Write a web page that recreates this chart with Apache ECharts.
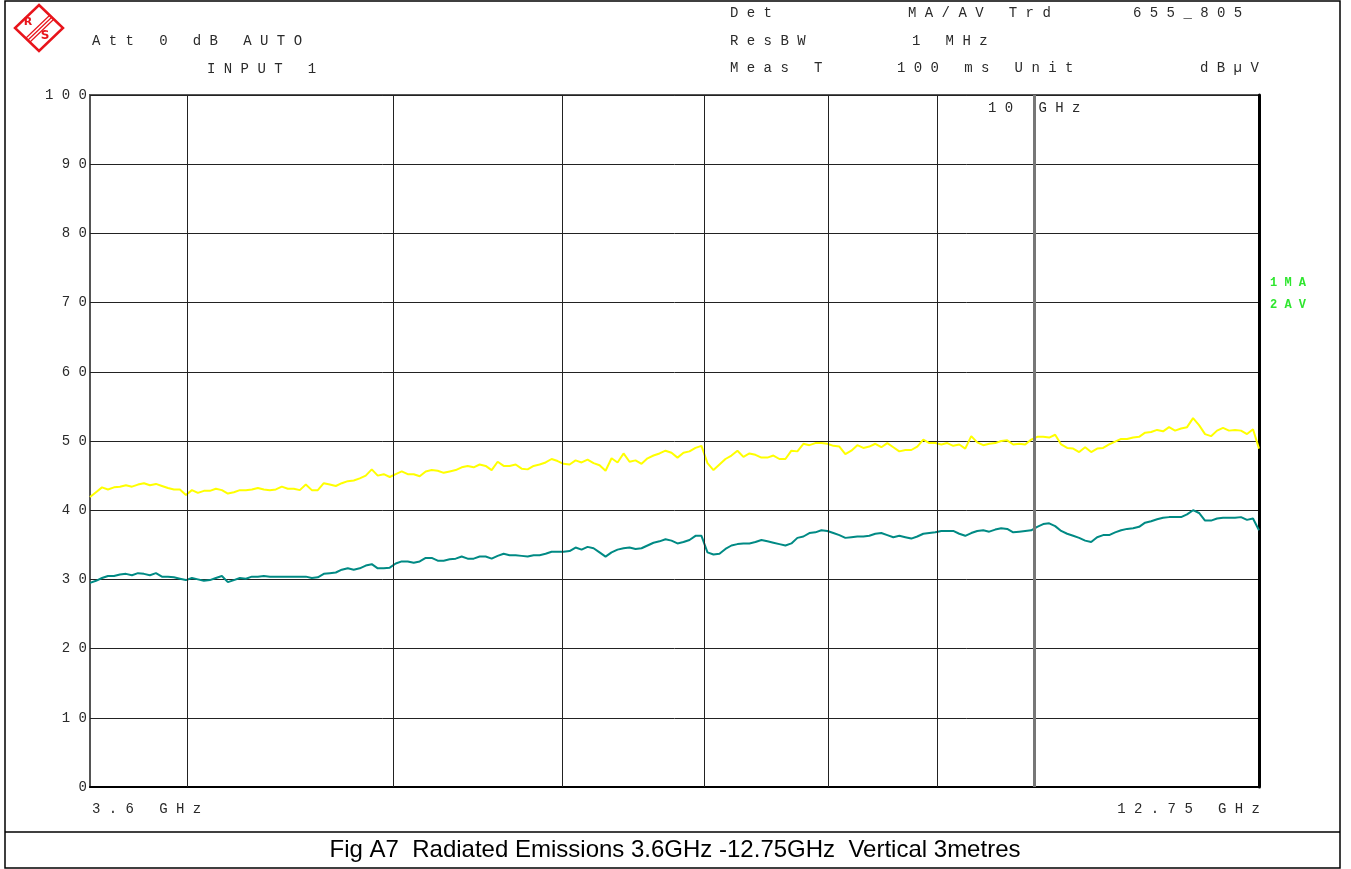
<!DOCTYPE html>
<html>
<head>
<meta charset="utf-8">
<script src="https://cdn.jsdelivr.net/npm/echarts@6.0.0/dist/echarts.min.js"></script>
<style>
  html, body { margin: 0; padding: 0; background: #fff; }
  #chart { width: 1351px; height: 869px; }
</style>
</head>
<body>
<div id="chart"></div>
<script>
// sweep: log spaced points between start and stop (GHz)
const sweepStart = 3.6;
const sweepStop = 12.75;
const gridFreqs = [4, 5, 6, 7, 8, 9, 10];
const levelTicks = [0, 10, 20, 30, 40, 50, 60, 70, 80, 90, 100];

// trace 1 (MA, yellow), dBuV
const trace1MA = [
  41.9, 42.6, 43.3, 43.0, 43.3, 43.4, 43.6, 43.4, 43.7, 43.9,
  43.6, 43.8, 43.5, 43.2, 43.0, 43.0, 42.2, 42.9, 42.5, 42.8,
  42.8, 43.1, 42.9, 42.4, 42.6, 42.9, 42.9, 43.0, 43.2, 43.0,
  42.9, 43.0, 43.4, 43.1, 43.1, 42.9, 43.7, 42.9, 42.9, 43.9,
  43.7, 43.5, 43.9, 44.2, 44.3, 44.6, 45.0, 45.9, 45.0, 45.2,
  44.8, 45.2, 45.6, 45.2, 45.2, 44.9, 45.6, 45.8, 45.7, 45.4,
  45.6, 45.8, 46.2, 46.4, 46.2, 46.6, 46.4, 45.8, 47.0, 46.4,
  46.4, 46.6, 46.0, 45.9, 46.4, 46.6, 46.9, 47.4, 47.1, 46.7,
  46.6, 47.2, 46.9, 47.3, 46.8, 46.5, 45.7, 47.5, 46.9, 48.2,
  47.0, 47.2, 46.7, 47.5, 47.9, 48.2, 48.6, 48.3, 47.6, 48.3,
  48.5, 49.0, 49.3, 46.8, 45.8, 46.6, 47.4, 47.9, 48.6, 47.7,
  48.2, 48.0, 47.6, 47.6, 47.9, 47.4, 47.4, 48.6, 48.5, 49.6,
  49.4, 49.7, 49.7, 49.6, 49.3, 49.2, 48.1, 48.6, 49.4, 49.0,
  49.2, 49.6, 49.1, 49.7, 49.1, 48.5, 48.7, 48.7, 49.2, 50.2,
  49.7, 49.7, 49.5, 49.7, 49.3, 49.5, 48.9, 50.7, 49.8,
  49.4, 49.6, 49.7, 50.0, 50.1, 49.5, 49.6, 49.5, 50.2, 50.6,
  50.6, 50.5, 50.9, 49.5, 49.0, 48.9, 48.4, 49.1, 48.4, 48.9,
  49.0, 49.5, 49.9, 50.3, 50.3, 50.5, 50.6, 51.2, 51.3, 51.6,
  51.4, 52.0, 51.5, 51.8, 52.0, 53.3, 52.3, 51.0, 50.7, 51.5,
  51.9, 51.5, 51.6, 51.5, 51.0, 51.7, 48.9
];

// trace 2 (AV, teal)
const trace2AV = [
  29.5, 29.8, 30.2, 30.5, 30.5, 30.7, 30.8, 30.6, 30.9, 30.8,
  30.6, 30.9, 30.4, 30.4, 30.3, 30.1, 29.9, 30.2, 30.0, 29.8,
  29.9, 30.2, 30.5, 29.6, 29.9, 30.2, 30.1, 30.4, 30.4, 30.5,
  30.4, 30.4, 30.4, 30.4, 30.4, 30.4, 30.4, 30.2, 30.3, 30.8,
  30.9, 31.0, 31.4, 31.6, 31.4, 31.6, 32.0, 32.2, 31.6, 31.6,
  31.7, 32.3, 32.6, 32.6, 32.4, 32.6, 33.1, 33.1, 32.7, 32.7,
  32.9, 33.0, 33.3, 33.0, 33.0, 33.3, 33.3, 33.0, 33.4, 33.7,
  33.5, 33.5, 33.4, 33.3, 33.5, 33.5, 33.7, 34.0, 34.0, 34.0,
  34.1, 34.6, 34.3, 34.7, 34.5, 33.9, 33.3, 33.9, 34.3, 34.5,
  34.6, 34.4, 34.5, 34.9, 35.3, 35.5, 35.8, 35.6, 35.2, 35.4,
  35.7, 36.3, 36.3, 33.9, 33.6, 33.7, 34.4, 34.9, 35.1, 35.2,
  35.2, 35.4, 35.7, 35.5, 35.3, 35.1, 34.9, 35.2, 36.0, 36.2,
  36.7, 36.8, 37.1, 37.0, 36.7, 36.4, 36.0, 36.1, 36.2, 36.2,
  36.3, 36.6, 36.7, 36.4, 36.1, 36.3, 36.1, 35.9, 36.2, 36.6,
  36.7, 36.8, 37.0, 37.0, 37.0, 36.6, 36.3, 36.7, 37.0,
  37.1, 36.9, 37.2, 37.4, 37.3, 36.8, 36.9, 37.0, 37.1, 37.6,
  38.0, 38.1, 37.7, 37.0, 36.6, 36.3, 36.0, 35.6, 35.4, 36.1,
  36.4, 36.4, 36.8, 37.1, 37.3, 37.4, 37.6, 38.2, 38.4, 38.7,
  38.9, 39.0, 39.0, 39.0, 39.4, 40.0, 39.6, 38.5, 38.5, 38.8,
  38.9, 38.9, 38.9, 39.0, 38.6, 38.8, 37.1
];

const monoFont = '"Liberation Mono", "DejaVu Sans Mono", monospace';
const txtColor = '#2a2a2a';

// analyzer screen text is wide spaced
function spaced(s) {
    return s.split('').join(' ');
}

function sweepFreq(i, n) {
    return sweepStart * Math.pow(sweepStop / sweepStart, i / (n - 1));
}

function toPairs(values) {
    return values.map((v, i) => [sweepFreq(i, values.length), v]);
}

function label(text, x, y, opts = {}) {
    return {
        type: 'text',
        x: x,
        y: y,
        silent: true,
        style: {
            text: opts.raw ? text : spaced(text),
            font: opts.font || ('14px ' + monoFont),
            fill: opts.fill || txtColor,
            align: opts.align || 'left',
            verticalAlign: 'middle',
        },
    };
}

const chart = echarts.init(document.getElementById('chart'), null, {renderer: 'canvas'});

const frame = [
    {type: 'rect', shape: {x: 5, y: 1, width: 1335, height: 867}, silent: true,
        style: {fill: null, stroke: '#000', lineWidth: 1.5}},
    {type: 'line', shape: {x1: 5, y1: 832, x2: 1340, y2: 832}, silent: true,
        style: {stroke: '#000', lineWidth: 1.5}},
];

// R&S logo
const logo = {
    type: 'group',
    silent: true,
    children: [
        {type: 'polygon', shape: {points: [[39, 5], [63, 28], [39, 51], [15, 28]]},
            style: {fill: null, stroke: '#e8141b', lineWidth: 2.5}},
        {type: 'line', shape: {x1: 26, y1: 38, x2: 50, y2: 15}, style: {stroke: '#e8141b', lineWidth: 1.2}},
        {type: 'line', shape: {x1: 28, y1: 40, x2: 52, y2: 17}, style: {stroke: '#e8141b', lineWidth: 1.2}},
        {type: 'line', shape: {x1: 30, y1: 42, x2: 54, y2: 19}, style: {stroke: '#e8141b', lineWidth: 1.2}},
        {type: 'text', x: 28, y: 22, style: {text: 'R', font: 'bold 11px "DejaVu Sans"', fill: '#e8141b',
            align: 'center', verticalAlign: 'middle'}},
        {type: 'text', x: 45, y: 36, style: {text: 'S', font: 'bold 12px "DejaVu Sans"', fill: '#e8141b',
            align: 'center', verticalAlign: 'middle'}},
    ],
};

const texts = [
    label('Att 0 dB AUTO', 92, 41),
    label('INPUT 1', 207, 69),
    label('Det', 730, 13),
    label('MA/AV Trd', 908, 13),
    label('655_805', 1133, 13),
    label('ResBW', 730, 41),
    label('1 MHz', 912, 41),
    label('Meas T', 730, 68),
    label('100 ms Unit', 897, 68),
    label('dBµV', 1200, 68),
    label('10 GHz', 988, 108),
    label('3.6 GHz', 92, 809),
    label('12.75 GHz', 1260, 809, {align: 'right'}),
    label('1MA', 1270, 283, {font: 'bold 12px ' + monoFont, fill: '#2ee62e'}),
    label('2AV', 1270, 305, {font: 'bold 12px ' + monoFont, fill: '#2ee62e'}),
    label('Fig A7  Radiated Emissions 3.6GHz -12.75GHz  Vertical 3metres', 675, 850,
        {raw: true, align: 'center', fill: '#000', font: '24px "Liberation Sans", Arial, sans-serif'}),
];

const gridLineData = gridFreqs.map(f => f === 10
    ? {xAxis: f, lineStyle: {color: '#777', width: 3, type: 'solid'}}
    : {xAxis: f});

chart.setOption({
    animation: false,
    backgroundColor: '#fff',
    grid: {
        left: 90, right: 92, top: 95, bottom: 82,
        show: true, borderColor: '#555', borderWidth: 2,
    },
    xAxis: {
        type: 'log',
        logBase: 10,
        min: sweepStart,
        max: sweepStop,
        axisLabel: {show: false},
        axisTick: {show: false},
        splitLine: {show: false},
        minorSplitLine: {show: false},
        axisLine: {show: true, onZero: false, lineStyle: {color: '#000', width: 2}},
    },
    yAxis: [{
        type: 'value',
        min: levelTicks[0],
        max: levelTicks[levelTicks.length - 1],
        interval: 10,
        axisLine: {show: false},
        axisTick: {show: false},
        axisLabel: {
            margin: 3,
            fontFamily: monoFont,
            fontSize: 14,
            color: txtColor,
            formatter: v => spaced(String(v)),
        },
        splitLine: {show: true, lineStyle: {color: '#222', width: 1}},
    }, {
        type: 'value',
        position: 'right',
        min: 0,
        max: 100,
        axisLine: {show: true, lineStyle: {color: '#000', width: 3}},
        axisTick: {show: false},
        axisLabel: {show: false},
        splitLine: {show: false},
    }],
    series: [
        {
            name: 'grid',
            type: 'line',
            data: [],
            z: 1,
            silent: true,
            markLine: {
                silent: true,
                symbol: 'none',
                animation: false,
                label: {show: false},
                lineStyle: {color: '#222', width: 1, type: 'solid'},
                data: gridLineData,
            },
        },
        {
            name: '2AV',
            type: 'line',
            data: toPairs(trace2AV),
            showSymbol: false,
            z: 3,
            lineStyle: {color: '#008a84', width: 2},
        },
        {
            name: '1MA',
            type: 'line',
            data: toPairs(trace1MA),
            showSymbol: false,
            z: 3,
            lineStyle: {color: '#ffff00', width: 2},
        },
    ],
    graphic: [].concat(frame, [logo], texts),
});
</script>
</body>
</html>
